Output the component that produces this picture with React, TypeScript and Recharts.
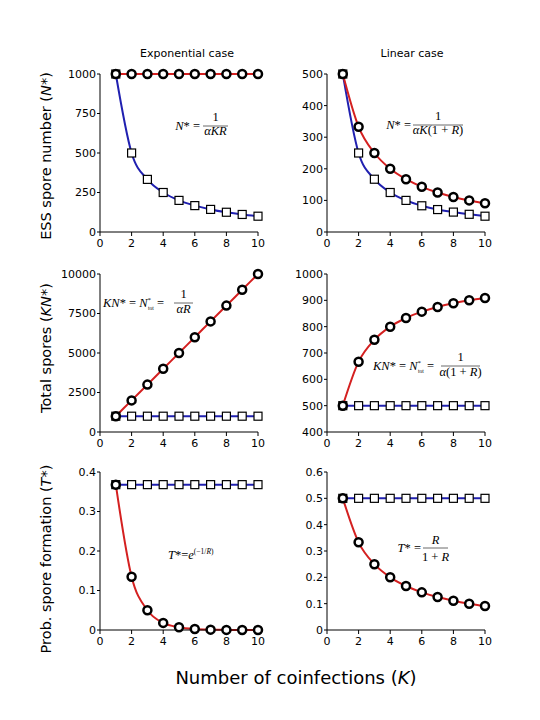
import React from "react";
import { LineChart, Line, XAxis, YAxis } from "recharts";

// number of coinfections
const K = [1, 2, 3, 4, 5, 6, 7, 8, 9, 10];

// ESS spore number N*
const expNRed = [1000, 1000, 1000, 1000, 1000, 1000, 1000, 1000, 1000, 1000];
const expNBlue = [1000, 500, 333, 250, 200, 167, 143, 125, 111, 100];
const linNRed = [500, 333, 250, 200, 167, 143, 125, 111, 100, 91];
const linNBlue = [500, 250, 167, 125, 100, 83, 71, 63, 56, 50];

// total spores KN*
const expTotRed = [1000, 2000, 3000, 4000, 5000, 6000, 7000, 8000, 9000, 10000];
const expTotBlue = [1000, 1000, 1000, 1000, 1000, 1000, 1000, 1000, 1000, 1000];
const linTotRed = [500, 667, 750, 800, 833, 857, 875, 889, 900, 909];
const linTotBlue = [500, 500, 500, 500, 500, 500, 500, 500, 500, 500];

// probability of spore formation T*
const expTRed = [0.368, 0.135, 0.05, 0.018, 0.007, 0.0025, 0.0009, 0.0003, 0.0001, 0.00005];
const expTBlue = [0.368, 0.368, 0.368, 0.368, 0.368, 0.368, 0.368, 0.368, 0.368, 0.368];
const linTRed = [0.5, 0.333, 0.25, 0.2, 0.167, 0.143, 0.125, 0.111, 0.1, 0.091];
const linTBlue = [0.5, 0.5, 0.5, 0.5, 0.5, 0.5, 0.5, 0.5, 0.5, 0.5];

const xTicks = [0, 2, 4, 6, 8, 10];
const ticksN1 = [0, 250, 500, 750, 1000];
const ticksN2 = [0, 100, 200, 300, 400, 500];
const ticksTot1 = [0, 2500, 5000, 7500, 10000];
const ticksTot2 = [400, 500, 600, 700, 800, 900, 1000];
const ticksT1 = [0, 0.1, 0.2, 0.3, 0.4];
const ticksT2 = [0, 0.1, 0.2, 0.3, 0.4, 0.5, 0.6];

const RED = "#d42020";
const BLUE = "#2020b0";
const SANS = "DejaVu Sans, Verdana, sans-serif";
const SERIF = "Liberation Serif, Times New Roman, serif";

const Square = (p: any) => (
  <rect
    key={`sq-${p.index}`}
    x={p.cx - 4}
    y={p.cy - 4}
    width={8}
    height={8}
    fill="#fff"
    stroke="#000"
    strokeWidth={1.2}
  />
);

function Panel({
  red,
  blue,
  left,
  top,
  ticks,
}: {
  red: number[];
  blue: number[];
  left: number;
  top: number;
  ticks: number[];
}) {
  const yW = 50;
  const mTop = 10;
  const mRight = 20;
  const xH = 28;
  const plotW = 158;
  const plotH = 158;
  const data = K.map((k, i) => ({ k, red: red[i], blue: blue[i] }));
  const tick = { fill: "#000", fontSize: 11, fontFamily: SANS };
  return (
    <div style={{ position: "absolute", left: left - yW, top: top - mTop }}>
      <LineChart
        width={yW + plotW + mRight}
        height={mTop + plotH + xH}
        data={data}
        margin={{ top: mTop, right: mRight, left: 0, bottom: 0 }}
      >
        <XAxis
          dataKey="k"
          type="number"
          domain={[0, 10]}
          ticks={xTicks}
          height={xH}
          stroke="#000"
          tick={tick}
          tickSize={4}
          tickMargin={3}
        />
        <YAxis
          type="number"
          domain={[ticks[0], ticks[ticks.length - 1]]}
          ticks={ticks}
          width={yW}
          stroke="#000"
          tick={tick}
          tickSize={3}
          tickMargin={1}
          interval={0}
        />
        <Line
          type="monotone"
          dataKey="blue"
          stroke={BLUE}
          strokeWidth={2}
          dot={Square}
          activeDot={false}
          isAnimationActive={false}
        />
        <Line
          type="monotone"
          dataKey="red"
          stroke={RED}
          strokeWidth={2}
          dot={{ r: 4, fill: "#fff", stroke: "#000", strokeWidth: 2.5 }}
          activeDot={false}
          isAnimationActive={false}
        />
      </LineChart>
    </div>
  );
}

function Overlay() {
  const it = { fontStyle: "italic" as const };
  const bar = { stroke: "#444", strokeWidth: 0.8 };
  return (
    <svg
      width={540}
      height={720}
      style={{ position: "absolute", left: 0, top: 0, pointerEvents: "none" }}
    >
      <g fontFamily={SANS} fill="#000">
        <text x={187} y={57} fontSize={11} textAnchor="middle">Exponential case</text>
        <text x={412} y={57} fontSize={11} textAnchor="middle">Linear case</text>
        <text transform="translate(46,156) rotate(-90)" fontSize={14.5} textAnchor="middle" dominantBaseline="central">
          ESS spore number (<tspan {...it}>N</tspan>*)
        </text>
        <text transform="translate(46,348) rotate(-90)" fontSize={14.5} textAnchor="middle" dominantBaseline="central">
          Total spores (<tspan {...it}>KN</tspan>*)
        </text>
        <text transform="translate(46,559) rotate(-90)" fontSize={14.5} textAnchor="middle" dominantBaseline="central">
          Prob. spore formation (<tspan {...it}>T</tspan>*)
        </text>
        <text x={296} y={684} fontSize={18} textAnchor="middle">
          Number of coinfections (<tspan {...it}>K</tspan>)
        </text>
      </g>
      <g fontFamily={SERIF} fontSize={12.5} fill="#000">
        {/* N* = 1/(aKR) */}
        <text x={200} y={130} textAnchor="end"><tspan {...it}>N</tspan>* =</text>
        <line x1={203} x2={228} y1={126} y2={126} {...bar} />
        <text x={215.5} y={121} textAnchor="middle">1</text>
        <text x={215.5} y={135} textAnchor="middle" {...it}>αKR</text>

        {/* N* = 1/(aK(1+R)) */}
        <text x={411} y={129} textAnchor="end"><tspan {...it}>N</tspan>* =</text>
        <line x1={413} x2={463} y1={125} y2={125} {...bar} />
        <text x={438} y={120} textAnchor="middle">1</text>
        <text x={438} y={134} textAnchor="middle">
          <tspan {...it}>αK</tspan>(1 + <tspan {...it}>R</tspan>)
        </text>

        {/* KN* = Ntot = 1/(aR) */}
        <text x={103} y={306.5}>
          <tspan {...it}>KN</tspan>* = <tspan {...it}>N</tspan>
          <tspan fontSize={7} dy={-5}>*</tspan>
          <tspan fontSize={5.5} dy={8} dx={-3}>tot</tspan>
          <tspan dy={-3}> =</tspan>
        </text>
        <line x1={174} x2={193} y1={303} y2={303} {...bar} />
        <text x={183.5} y={298} textAnchor="middle">1</text>
        <text x={183.5} y={313} textAnchor="middle" {...it}>αR</text>

        {/* KN* = Ntot = 1/(a(1+R)) */}
        <text x={373} y={369.5}>
          <tspan {...it}>KN</tspan>* = <tspan {...it}>N</tspan>
          <tspan fontSize={7} dy={-5}>*</tspan>
          <tspan fontSize={5.5} dy={8} dx={-3}>tot</tspan>
          <tspan dy={-3}> =</tspan>
        </text>
        <line x1={441} x2={480} y1={366} y2={366} {...bar} />
        <text x={460.5} y={361} textAnchor="middle">1</text>
        <text x={460.5} y={376} textAnchor="middle">
          <tspan {...it}>α</tspan>(1 + <tspan {...it}>R</tspan>)
        </text>

        {/* T* = e^(-1/R) */}
        <text x={168} y={559}>
          <tspan {...it}>T</tspan>*=<tspan {...it}>e</tspan>
          <tspan fontSize={7.5} dy={-5}>(−1/</tspan>
          <tspan fontSize={7.5} {...it}>R</tspan>
          <tspan fontSize={7.5}>)</tspan>
        </text>

        {/* T* = R/(1+R) */}
        <text x={421} y={551.5} textAnchor="end"><tspan {...it}>T</tspan>* =</text>
        <line x1={423} x2={448} y1={548} y2={548} {...bar} />
        <text x={435.5} y={543.5} textAnchor="middle" {...it}>R</text>
        <text x={435.5} y={561} textAnchor="middle">
          1 + <tspan {...it}>R</tspan>
        </text>
      </g>
    </svg>
  );
}

export default function App() {
  return (
    <div
      style={{
        position: "absolute",
        left: 0,
        top: 0,
        width: 540,
        height: 720,
        background: "#fff",
      }}
    >
      <Panel red={expNRed} blue={expNBlue} left={100} top={74} ticks={ticksN1} />
      <Panel red={linNRed} blue={linNBlue} left={327} top={74} ticks={ticksN2} />
      <Panel red={expTotRed} blue={expTotBlue} left={100} top={274} ticks={ticksTot1} />
      <Panel red={linTotRed} blue={linTotBlue} left={327} top={274} ticks={ticksTot2} />
      <Panel red={expTRed} blue={expTBlue} left={100} top={472} ticks={ticksT1} />
      <Panel red={linTRed} blue={linTBlue} left={327} top={472} ticks={ticksT2} />
      <Overlay />
    </div>
  );
}
